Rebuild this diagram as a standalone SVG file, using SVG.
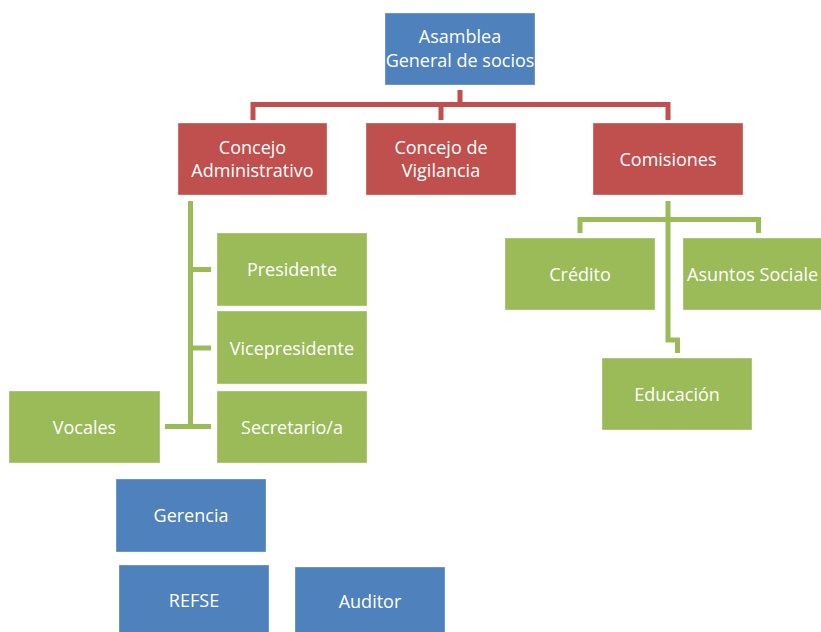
<svg xmlns="http://www.w3.org/2000/svg" width="821" height="632" viewBox="0 0 821 632">
<style>
.b{fill:#4F81BD}
.r{fill:#C0504D}
.g{fill:#9BBB59}
rect{stroke:#ffffff;stroke-opacity:0.35;stroke-width:1}
text{font-family:"Open Sans","Noto Sans",sans-serif;font-size:18px;fill:#ffffff;text-anchor:middle}
.cr{fill:none;stroke:#C0504D;stroke-width:5}
.cg{fill:none;stroke:#9BBB59;stroke-width:5}
</style>
<rect width="821" height="632" fill="#ffffff" stroke="none"/>
<g id="connectors">
<path class="cr" d="M460 90V104.5M253 120V104.5H668V120M441 104.5V120"/>
<path class="cg" d="M190.5 201V426.5M190.5 269.5H211M190.5 348H211M165 426.5H211"/>
<path class="cg" d="M668 201V340H677.5V353M580 233V219.5H758.5V233"/>
</g>
<g id="asamblea"><rect class="b" x="385" y="13" width="150" height="72"/><text x="460" y="43">Asamblea</text><text x="460" y="67">General de socios</text></g>
<g id="concejo-admin"><rect class="r" x="178" y="123" width="149" height="72"/><text x="252.5" y="154">Concejo</text><text x="252.5" y="177">Administrativo</text></g>
<g id="concejo-vigilancia"><rect class="r" x="366" y="123" width="150" height="72"/><text x="441" y="154">Concejo de</text><text x="441" y="177">Vigilancia</text></g>
<g id="comisiones"><rect class="r" x="593" y="123" width="150" height="72"/><text x="668" y="165.5">Comisiones</text></g>
<g id="presidente"><rect class="g" x="217" y="233" width="150" height="73"/><text x="292" y="276">Presidente</text></g>
<g id="vicepresidente"><rect class="g" x="217" y="311" width="150" height="73"/><text x="292" y="354.5">Vicepresidente</text></g>
<g id="secretario"><rect class="g" x="217" y="391" width="150" height="72"/><text x="292" y="433.5">Secretario/a</text></g>
<g id="vocales"><rect class="g" x="9" y="391" width="151" height="72"/><text x="84.5" y="433.5">Vocales</text></g>
<g id="credito"><rect class="g" x="505" y="238" width="150" height="72"/><text x="580" y="280.5">Crédito</text></g>
<g id="asuntos"><rect class="g" x="683" y="238" width="150" height="72"/><text x="687" y="280.5" style="text-anchor:start">Asuntos Sociale</text></g>
<g id="educacion"><rect class="g" x="602" y="358" width="150" height="72"/><text x="677" y="400.5">Educación</text></g>
<g id="gerencia"><rect class="b" x="116" y="479" width="150" height="73"/><text x="191" y="522">Gerencia</text></g>
<g id="refse"><rect class="b" x="119" y="565" width="150" height="72"/><text x="194" y="607">REFSE</text></g>
<g id="auditor"><rect class="b" x="295" y="567" width="150" height="72"/><text x="370" y="608">Auditor</text></g>
</svg>
